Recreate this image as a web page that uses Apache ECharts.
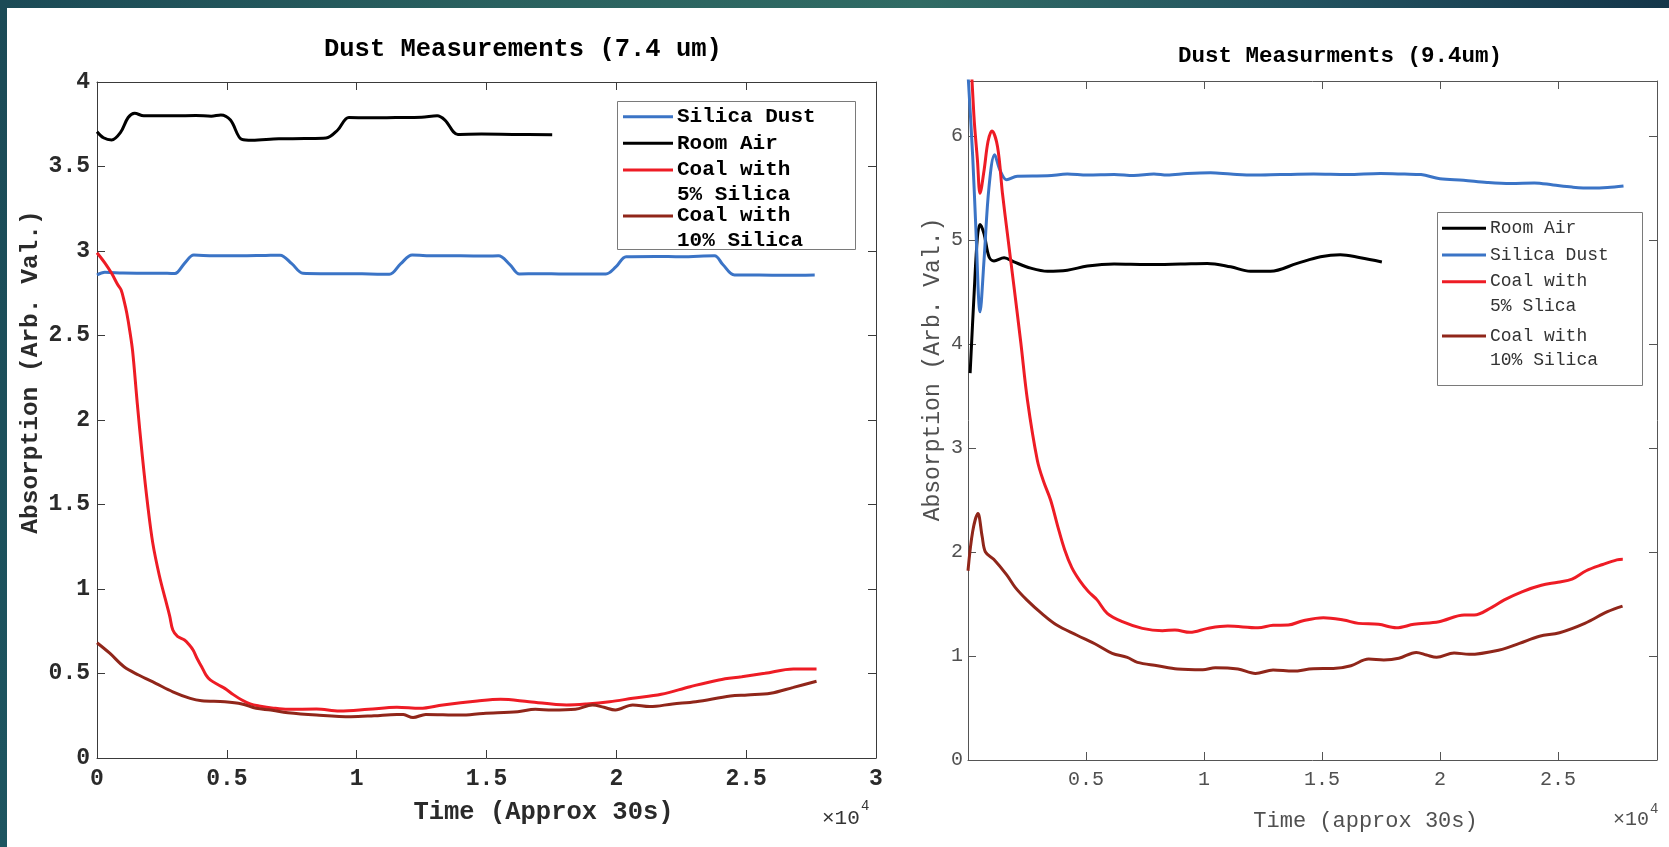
<!DOCTYPE html>
<html>
<head>
<meta charset="utf-8">
<title>Dust Measurements</title>
<script src="https://cdn.jsdelivr.net/npm/echarts@6/dist/echarts.min.js"></script>
<style>
  html, body { margin: 0; padding: 0; background: #ffffff; }
  #wrap { position: relative; width: 1669px; height: 847px; background: #ffffff; overflow: hidden; }
  #topband { position: absolute; left: 0; top: 0; width: 1669px; height: 8px;
    background: linear-gradient(90deg, #1b4a56 0%, #2a615f 30%, #306b64 55%, #235360 78%, #14364a 100%); }
  #leftband { position: absolute; left: 0; top: 0; width: 7px; height: 847px;
    background: linear-gradient(180deg, #1b4a56 0%, #1d5560 100%); }
  #chart { position: absolute; left: 0; top: 0; width: 1669px; height: 847px; }
</style>
</head>
<body>
<div id="wrap">
  <div id="topband"></div>
  <div id="leftband"></div>
  <div id="chart"></div>
</div>
<script>
// ---- 7.4 um panel: [time, absorption] samples ----
const silicaDust74 = [[0,2.858],[300,2.874],[1000,2.870],[2000,2.868],[2700,2.868],[3000,2.867],[3370,2.927],[3730,2.976],[4500,2.972],[5500,2.972],[6500,2.974],[7050,2.975],[7500,2.925],[7930,2.868],[8600,2.866],[9500,2.866],[10500,2.864],[11260,2.862],[11700,2.925],[12140,2.976],[13000,2.972],[14000,2.972],[15000,2.970],[15460,2.972],[15900,2.920],[16270,2.864],[17000,2.866],[18000,2.864],[19000,2.864],[19600,2.864],[19990,2.907],[20380,2.966],[21500,2.968],[22500,2.966],[23780,2.972],[24100,2.920],[24550,2.858],[25500,2.858],[26500,2.856],[27640,2.858]];
const roomAir74 = [[0,3.706],[250,3.670],[563,3.657],[900,3.700],[1200,3.790],[1450,3.815],[1800,3.800],[2180,3.800],[3000,3.800],[3800,3.802],[4400,3.798],[4770,3.805],[5140,3.775],[5580,3.660],[5970,3.655],[7000,3.664],[8000,3.665],[8820,3.668],[9270,3.716],[9700,3.790],[10500,3.788],[11500,3.790],[12500,3.792],[13100,3.800],[13400,3.775],[13900,3.690],[14800,3.692],[16000,3.690],[17530,3.688]];
const coal5Silica74 = [[0,2.99],[300,2.93],[563,2.868],[800,2.80],[930,2.769],[1050,2.70],[1150,2.63],[1260,2.53],[1370,2.41],[1550,2.10],[1750,1.78],[1950,1.50],[2150,1.27],[2400,1.08],[2640,0.935],[2800,0.84],[2920,0.757],[3100,0.72],[3370,0.698],[3550,0.67],[3700,0.639],[3850,0.59],[4030,0.54],[4200,0.49],[4360,0.462],[4650,0.435],[4920,0.412],[5250,0.375],[5580,0.343],[5900,0.320],[6240,0.308],[6800,0.295],[7350,0.288],[8450,0.290],[9340,0.278],[10450,0.288],[11550,0.300],[12440,0.294],[13320,0.314],[14650,0.337],[15540,0.347],[16640,0.333],[18080,0.314],[18860,0.320],[19740,0.333],[20630,0.353],[21730,0.377],[22840,0.422],[23950,0.462],[24830,0.481],[25720,0.501],[26820,0.527],[27710,0.527]];
const coal10Silica74 = [[0,0.682],[490,0.620],[1040,0.540],[1600,0.491],[2260,0.442],[2920,0.392],[3590,0.353],[4030,0.339],[4920,0.333],[5580,0.320],[6130,0.294],[6690,0.284],[7350,0.268],[8450,0.254],[9780,0.244],[10670,0.250],[11550,0.258],[11800,0.257],[12170,0.239],[12660,0.258],[13990,0.254],[14870,0.264],[16200,0.274],[16880,0.288],[17530,0.284],[18420,0.288],[19080,0.314],[19520,0.300],[19960,0.284],[20630,0.314],[21290,0.304],[22170,0.320],[23060,0.333],[24390,0.367],[25050,0.373],[25940,0.383],[26820,0.418],[27710,0.454]];

// ---- 9.4 um panel: [time, absorption] samples ----
const roomAir94 = [[90,3.72],[260,4.49],[400,5.03],[512,5.15],[680,5.06],[890,4.84],[1100,4.80],[1530,4.83],[1950,4.79],[2660,4.73],[3370,4.70],[4210,4.71],[5060,4.75],[6190,4.77],[7600,4.765],[9010,4.77],[10140,4.776],[11130,4.743],[11970,4.70],[12820,4.70],[13950,4.776],[14940,4.84],[15780,4.86],[16630,4.83],[17540,4.79]];
const silicaDust94 = [[0,6.60],[200,5.80],[330,5.13],[512,4.31],[680,4.81],[890,5.51],[1130,5.82],[1360,5.67],[1640,5.58],[2090,5.615],[3370,5.618],[4210,5.635],[5060,5.625],[6190,5.63],[7030,5.62],[7880,5.635],[8440,5.625],[9290,5.64],[10280,5.647],[11130,5.635],[12110,5.625],[13240,5.63],[14650,5.635],[16070,5.63],[17480,5.64],[18500,5.635],[19200,5.63],[20000,5.59],[21000,5.575],[22000,5.555],[23000,5.545],[24000,5.55],[24800,5.53],[25600,5.51],[26400,5.50],[27100,5.505],[27780,5.52]];
const coal5Silica94 = [[0,7.30],[250,6.20],[400,5.77],[512,5.45],[680,5.67],[850,5.95],[1010,6.05],[1250,5.90],[1460,5.45],[1670,5.06],[1950,4.55],[2240,4.01],[2520,3.46],[2940,2.88],[3200,2.68],[3500,2.50],[3800,2.25],[4100,2.02],[4400,1.85],[4750,1.72],[5100,1.62],[5470,1.54],[5900,1.41],[6540,1.33],[7390,1.266],[8240,1.244],[8770,1.25],[9410,1.228],[10160,1.266],[11010,1.288],[12290,1.272],[12930,1.295],[13570,1.298],[14200,1.34],[15060,1.368],[15910,1.346],[16550,1.314],[17400,1.305],[18150,1.272],[18900,1.305],[19960,1.33],[21030,1.394],[21450,1.394],[22200,1.468],[22730,1.54],[23500,1.62],[24300,1.68],[25000,1.71],[25600,1.74],[26200,1.82],[26900,1.88],[27500,1.925],[27750,1.93]];
const coal10Silica94 = [[0,1.82],[200,2.20],[420,2.37],[600,2.15],[740,2.00],[1090,1.93],[1640,1.78],[2000,1.66],[2490,1.54],[3120,1.41],[3760,1.298],[4620,1.20],[5470,1.106],[6110,1.026],[6750,0.987],[7180,0.939],[8030,0.907],[8880,0.875],[9950,0.868],[10480,0.888],[11440,0.875],[12180,0.833],[12930,0.865],[13780,0.855],[14630,0.878],[15480,0.88],[16230,0.907],[16980,0.971],[17620,0.962],[18260,0.978],[19000,1.035],[19430,1.01],[19860,0.987],[20600,1.03],[21240,1.016],[22520,1.058],[23370,1.122],[24220,1.19],[25070,1.224],[26140,1.314],[27100,1.426],[27740,1.48]];

// Series names and legend entries (one line per row of text)
const names74 = ['Silica Dust', 'Room Air', 'Coal with 5% Silica', 'Coal with 10% Silica'];
const legendRows74 = [['Silica Dust'], ['Room Air'], ['Coal with', '5% Silica'], ['Coal with', '10% Silica']];
const names94 = ['Room Air', 'Silica Dust', 'Coal with 5% Slica', 'Coal with 10% Silica'];
const legendRows94 = [['Room Air'], ['Silica Dust'], ['Coal with', '5% Slica'], ['Coal with', '10% Silica']];

const C_SILICA = '#3b74c6';
const C_ROOM = '#000000';
const C_COAL5 = '#ee1c25';
const C_COAL10 = '#90261a';

const FONT = '"Liberation Mono", "DejaVu Sans Mono", monospace';
const AX_DARK = '#3a3a3a';
const AX_GRAY = '#555555';

const chart = echarts.init(document.getElementById('chart'), null, { renderer: 'canvas' });

function line(name, data, color, xi, yi, z) {
  return {
    name, type: 'line', data, xAxisIndex: xi, yAxisIndex: yi,
    showSymbol: false, symbol: 'none', smooth: 0.35, clip: true, z,
    lineStyle: { color, width: 3 }, itemStyle: { color }
  };
}

// Box-style axis: line on its own side, ticks pointing into the plot
function frameAxis(base, color) {
  const c = color || AX_DARK;
  return Object.assign({
    type: 'value',
    axisLine: { show: true, onZero: false, lineStyle: { color: c, width: 1 } },
    axisTick: { show: true, inside: true, length: 8, lineStyle: { color: c, width: 1 } },
    axisLabel: { show: false },
    splitLine: { show: false },
    nameMoveOverlap: false
  }, base);
}

// Legend boxes drawn as graphic groups: line sample on the first text row
function legendBox(box, rows, colors, lineX, textX, rowY, textStyle) {
  const els = [{
    type: 'rect', shape: { x: box[0], y: box[1], width: box[2], height: box[3] },
    style: { fill: '#ffffff', stroke: '#7a7a7a', lineWidth: 1 }, z: 20
  }];
  let k = 0;
  rows.forEach((row, i) => {
    els.push({
      type: 'line', shape: { x1: lineX[0], y1: rowY[k], x2: lineX[1], y2: rowY[k] },
      style: { stroke: colors[i], lineWidth: 3 }, z: 21
    });
    row.forEach(txt => {
      els.push({
        type: 'text', x: textX, y: rowY[k], z: 21,
        style: Object.assign({ text: txt, verticalAlign: 'middle', align: 'left' }, textStyle)
      });
      k++;
    });
  });
  return els;
}

const legendColors74 = [C_SILICA, C_ROOM, C_COAL5, C_COAL10];
const legendColors94 = [C_ROOM, C_SILICA, C_COAL5, C_COAL10];

const option = {
  animation: false,
  backgroundColor: 'transparent',
  title: [
    { text: 'Dust Measurements (7.4 um)', left: 324, top: 37, padding: 0,
      textStyle: { fontFamily: FONT, fontWeight: 'bold', fontSize: 25.5, color: '#000' } },
    { text: 'Dust Measurments (9.4um)', left: 1178, top: 45, padding: 0,
      textStyle: { fontFamily: FONT, fontWeight: 'bold', fontSize: 22.5, color: '#000' } }
  ],
  grid: [
    { left: 97, top: 82, width: 779, height: 676, outerBoundsMode: 'none', containLabel: false },
    { left: 968, top: 81, width: 689, height: 679, outerBoundsMode: 'none', containLabel: false }
  ],
  xAxis: [
    frameAxis({
      gridIndex: 0, position: 'bottom', min: 0, max: 30000, interval: 5000,
      axisLabel: { show: true, margin: 10, fontFamily: FONT, fontWeight: 'bold', fontSize: 23, color: '#2a2a2a',
        formatter: v => String(v / 10000) },
      name: 'Time (Approx 30s)', nameLocation: 'middle', nameGap: 42,
      nameTextStyle: { fontFamily: FONT, fontWeight: 'bold', fontSize: 25.5, color: '#2a2a2a', padding: [0, 0, 0, 114] }
    }),
    frameAxis({ gridIndex: 0, position: 'top', min: 0, max: 30000, interval: 5000 }),
    frameAxis({
      gridIndex: 1, position: 'bottom', min: 0, max: 29200, interval: 5000,
      axisLabel: { show: true, margin: 10, fontFamily: FONT, fontSize: 20, color: '#505050',
        formatter: v => (v > 0 && v % 5000 === 0) ? String(v / 10000) : '' },
      name: 'Time (approx 30s)', nameLocation: 'middle', nameGap: 50,
      nameTextStyle: { fontFamily: FONT, fontSize: 22, color: '#505050', padding: [0, 0, 0, 106] }
    }, AX_GRAY),
    frameAxis({ gridIndex: 1, position: 'top', min: 0, max: 29200, interval: 5000 }, AX_GRAY)
  ],
  yAxis: [
    frameAxis({
      gridIndex: 0, position: 'left', min: 0, max: 4, interval: 0.5,
      axisLabel: { show: true, margin: 7, fontFamily: FONT, fontWeight: 'bold', fontSize: 23, color: '#2a2a2a',
        formatter: v => String(v) },
      name: 'Absorption (Arb. Val.)', nameLocation: 'middle', nameGap: 54,
      nameTextStyle: { fontFamily: FONT, fontWeight: 'bold', fontSize: 24.5, color: '#2a2a2a', padding: [0, 0, 0, 96] }
    }),
    frameAxis({ gridIndex: 0, position: 'right', min: 0, max: 4, interval: 0.5 }),
    frameAxis({
      gridIndex: 1, position: 'left', min: 0, max: 6.53, interval: 1,
      axisLabel: { show: true, margin: 5, fontFamily: FONT, fontSize: 20, color: '#505050',
        formatter: v => Number.isInteger(v) ? String(v) : '' },
      name: 'Absorption (Arb. Val.)', nameLocation: 'middle', nameGap: 24,
      nameTextStyle: { fontFamily: FONT, fontSize: 23, color: '#505050', padding: [0, 0, 0, 102] }
    }, AX_GRAY),
    frameAxis({ gridIndex: 1, position: 'right', min: 0, max: 6.53, interval: 1 }, AX_GRAY)
  ],
  series: [
    line(names74[0], silicaDust74, C_SILICA, 0, 0, 2),
    line(names74[1], roomAir74, C_ROOM, 0, 0, 3),
    line(names74[2], coal5Silica74, C_COAL5, 0, 0, 4),
    line(names74[3], coal10Silica74, C_COAL10, 0, 0, 5),
    line(names94[0], roomAir94, C_ROOM, 2, 2, 2),
    line(names94[1], silicaDust94, C_SILICA, 2, 2, 3),
    line(names94[2], coal5Silica94, C_COAL5, 2, 2, 4),
    line(names94[3], coal10Silica94, C_COAL10, 2, 2, 5)
  ],
  graphic: [
    ...legendBox([617.5, 101.5, 238, 148], legendRows74, legendColors74, [623, 673], 677,
      [116.7, 143.3, 170, 194.3, 216, 240.7],
      { fontFamily: FONT, fontWeight: 'bold', fontSize: 21, fill: '#000' }),
    ...legendBox([1437.5, 212.5, 205, 173], legendRows94, legendColors94, [1442, 1486], 1490,
      [228.3, 255, 281.7, 306.7, 336, 360.3],
      { fontFamily: FONT, fontSize: 18, fill: '#333' }),
    { type: 'text', x: 822, y: 818, z: 21,
      style: { text: '\u00d710', fontFamily: FONT, fontSize: 21, fill: '#333', verticalAlign: 'middle' } },
    { type: 'text', x: 861, y: 806, z: 21,
      style: { text: '4', fontFamily: FONT, fontSize: 14, fill: '#333', verticalAlign: 'middle' } },
    { type: 'text', x: 1613, y: 820, z: 21,
      style: { text: '\u00d710', fontFamily: FONT, fontSize: 20, fill: '#505050', verticalAlign: 'middle' } },
    { type: 'text', x: 1650, y: 809, z: 21,
      style: { text: '4', fontFamily: FONT, fontSize: 14, fill: '#505050', verticalAlign: 'middle' } }
  ]
};

chart.setOption(option);
</script>
</body>
</html>
